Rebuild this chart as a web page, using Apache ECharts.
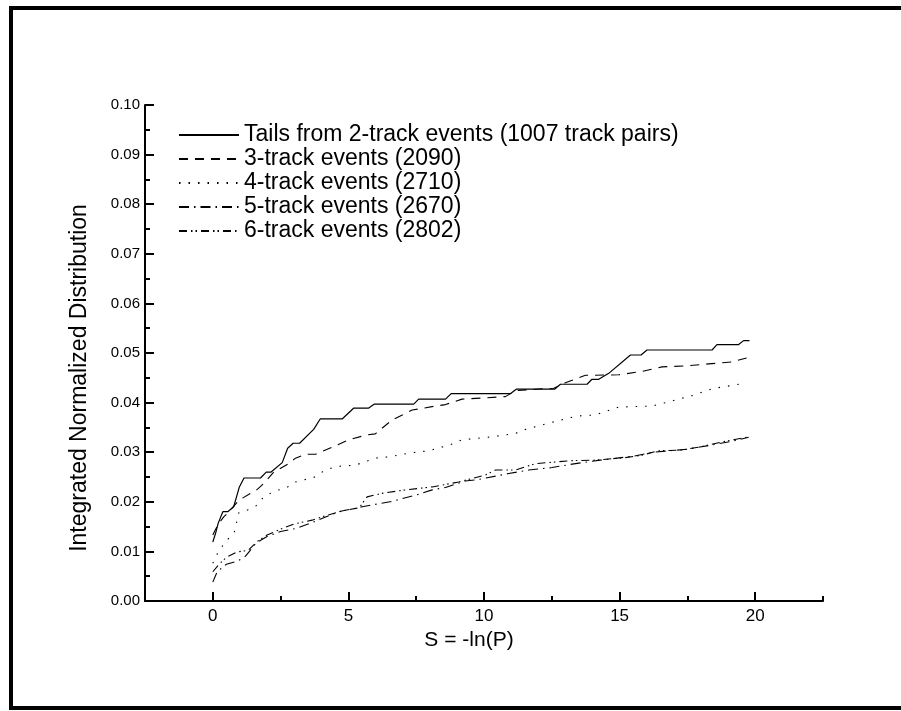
<!DOCTYPE html>
<html>
<head>
<meta charset="utf-8">
<script src="https://cdn.jsdelivr.net/npm/echarts@6/dist/echarts.min.js"></script>
<style>
html,body{margin:0;padding:0;background:#fff;}
#chart{width:901px;height:711px;}
</style>
</head>
<body>
<div id="chart"></div>
<script>
// ---- data (S, integrated normalized distribution) ----
const seriesNames = [
  'Tails from 2-track events (1007 track pairs)',
  '3-track events (2090)',
  '4-track events (2710)',
  '5-track events (2670)',
  '6-track events (2802)'
];
const track2 = [[0,0.0119],[0.1,0.0136],[0.2,0.0157],[0.37,0.018],[0.55,0.018],[0.77,0.019],[0.98,0.023],[1.15,0.0248],[1.76,0.0248],[1.97,0.026],[2.15,0.026],[2.56,0.0279],[2.76,0.0308],[2.96,0.0318],[3.2,0.0318],[3.72,0.0346],[3.96,0.0367],[4.77,0.0367],[5.2,0.0389],[5.75,0.0389],[5.96,0.0397],[7.41,0.0397],[7.59,0.0407],[8.58,0.0407],[8.79,0.0418],[10.97,0.0418],[11.19,0.0427],[12.6,0.0427],[12.82,0.0437],[13.8,0.0437],[13.98,0.0447],[14.23,0.0447],[14.6,0.0459],[15.4,0.0496],[15.79,0.0496],[16.01,0.0506],[18.41,0.0506],[18.59,0.0517],[19.39,0.0517],[19.57,0.0525],[19.79,0.0525]];
const track3 = [[0,0.0133],[0.2,0.0155],[0.41,0.017],[0.6,0.018],[0.96,0.0203],[1.64,0.0225],[1.88,0.0237],[2.25,0.026],[2.8,0.0277],[3.05,0.0288],[3.42,0.0296],[3.79,0.0296],[4.4,0.031],[5.01,0.0325],[5.69,0.0335],[5.99,0.0337],[6.61,0.0365],[7.35,0.0385],[8.21,0.0393],[8.58,0.0396],[9.19,0.0407],[10.79,0.0412],[11.16,0.0424],[11.9,0.0427],[12.57,0.0429],[13,0.044],[13.74,0.0455],[14.97,0.0456],[15.83,0.0463],[16.56,0.0472],[17.42,0.0474],[18.28,0.0478],[19.14,0.0482],[19.76,0.0491]];
const track4 = [[0,0.0076],[0.2,0.0099],[0.44,0.0117],[0.8,0.014],[0.96,0.0178],[1.3,0.0184],[1.6,0.0192],[1.88,0.021],[2.3,0.0222],[2.7,0.0228],[3.05,0.024],[3.72,0.0249],[4.09,0.0262],[4.52,0.0271],[5.26,0.0274],[5.99,0.0288],[6.55,0.0291],[7.22,0.0298],[7.96,0.0303],[8.76,0.0315],[9.19,0.0325],[10.3,0.0331],[11.16,0.0338],[11.53,0.0346],[12.63,0.0362],[13.43,0.0373],[14.1,0.0375],[14.97,0.0391],[16.2,0.0393],[17.05,0.0405],[17.67,0.0414],[18.41,0.0428],[19.63,0.0439]];
const track5 = [[0,0.0038],[0.16,0.0059],[0.5,0.0074],[0.9,0.008],[1.2,0.009],[1.6,0.0117],[2.0,0.013],[2.5,0.014],[3.05,0.0146],[3.66,0.0158],[4.64,0.018],[5.51,0.019],[6.61,0.0201],[7.53,0.0214],[8.09,0.0224],[8.58,0.0229],[9.31,0.0242],[9.8,0.0245],[10.91,0.0257],[11.65,0.0264],[12.51,0.0269],[13.25,0.0276],[14.29,0.0284],[15.52,0.0292],[16.25,0.03],[17.49,0.0306],[18.35,0.0314],[19.14,0.0322],[19.76,0.033]];
const track6 = [[0,0.0059],[0.25,0.0075],[0.5,0.0088],[0.9,0.0099],[1.3,0.0102],[1.64,0.012],[2.0,0.0133],[2.5,0.0145],[3.05,0.0156],[3.66,0.0163],[4.22,0.0173],[4.89,0.0183],[5.4,0.0188],[5.69,0.021],[6.24,0.0217],[7.1,0.0224],[8.09,0.023],[9.07,0.024],[10.05,0.0254],[10.42,0.0264],[11.16,0.0264],[11.9,0.0277],[13.25,0.0283],[14.1,0.0284],[15.21,0.0289],[15.83,0.0294],[16.44,0.0303],[17.24,0.0304],[18.0,0.0311],[18.71,0.032],[19.76,0.0331]];
const xMajorTicks = [0, 5, 10, 15, 20];
const xTitle = 'S = -ln(P)';
const yTitle = 'Integrated Normalized Distribution';

const dashPatterns = ['solid', [9, 7], [1.5, 8], [10, 5, 1.5, 5], [8, 4, 1.5, 3, 1.5, 4]];
const allData = [track2, track3, track4, track5, track6];

const FONT = "'Liberation Sans', Arial, sans-serif";

const chart = echarts.init(document.getElementById('chart'), null, {renderer: 'canvas'});
chart.setOption({
  animation: false,
  backgroundColor: '#fff',
  grid: {left: 145, right: 78, top: 105, bottom: 110, containLabel: false},
  graphic: [{
    type: 'rect', silent: true, z: 100,
    shape: {x: 11, y: 8, width: 900, height: 700},
    style: {fill: 'none', stroke: '#000', lineWidth: 4}
  }],
  legend: {
    orient: 'vertical', left: 178, top: 123, padding: 0,
    itemWidth: 60, itemHeight: 24, itemGap: 0,
    itemStyle: {opacity: 0},
    textStyle: {fontFamily: FONT, fontSize: 23, color: '#000', lineHeight: 24},
    data: seriesNames
  },
  xAxis: [{
    type: 'value', min: -2.5, max: 22.5, interval: 2.5,
    axisLine: {show: true, onZero: false, lineStyle: {color: '#000', width: 2}},
    axisTick: {show: true, inside: true, length: 5, lineStyle: {color: '#000', width: 2}},
    axisLabel: {show: false},
    splitLine: {show: false}
  }, {
    type: 'value', min: -2.5, max: 22.5, position: 'bottom',
    name: xTitle, nameLocation: 'middle', nameGap: 29,
    nameTextStyle: {fontFamily: FONT, fontSize: 21, color: '#000', padding: [0, 30, 0, 0]},
    axisLine: {show: false},
    axisTick: {show: true, inside: true, length: 9, customValues: xMajorTicks, lineStyle: {color: '#000', width: 2}},
    axisLabel: {show: true, customValues: xMajorTicks, margin: 7, fontFamily: FONT, fontSize: 17, color: '#000'},
    splitLine: {show: false}
  }],
  yAxis: {
    type: 'value', min: 0, max: 0.1, interval: 0.01,
    name: yTitle, nameLocation: 'middle', nameGap: 54,
    nameTextStyle: {fontFamily: FONT, fontSize: 23, color: '#000', padding: [0, 50, 0, 0]},
    axisLine: {show: true, onZero: false, lineStyle: {color: '#000', width: 2}},
    axisTick: {show: true, inside: true, length: 9, lineStyle: {color: '#000', width: 2}},
    minorTick: {show: true, splitNumber: 2, length: 5, lineStyle: {color: '#000', width: 2}},
    axisLabel: {margin: 5, fontFamily: FONT, fontSize: 15, color: '#000', formatter: v => v.toFixed(2)},
    splitLine: {show: false}
  },
  series: seriesNames.map((name, i) => ({
    name: name, type: 'line', xAxisIndex: 0, data: allData[i],
    showSymbol: false, symbol: 'none',
    lineStyle: {color: '#000', width: i === 0 ? 1.2 : 1.1, type: dashPatterns[i]},
    itemStyle: {color: '#000'}
  }))
});
</script>
</body>
</html>
